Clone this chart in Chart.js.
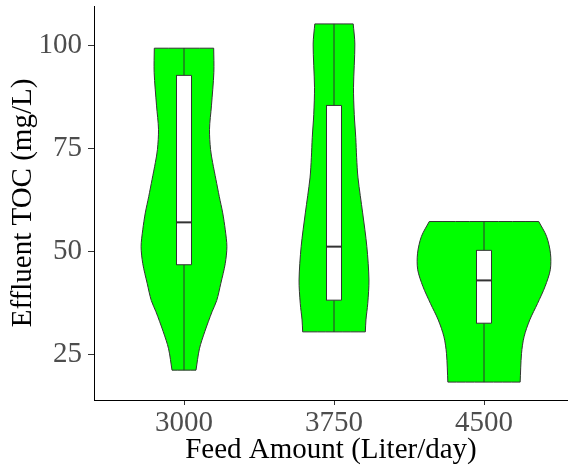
<!DOCTYPE html>
<html>
<head>
<meta charset="utf-8">
<title>Effluent TOC by Feed Amount</title>
<script src="https://cdn.jsdelivr.net/npm/chart.js@4/dist/chart.umd.min.js"></script>
<style>
  html, body { margin: 0; padding: 0; background: #ffffff; }
  #wrap { width: 568px; height: 472px; position: relative; }
</style>
</head>
<body>
<div id="wrap"><canvas id="chart"></canvas></div>
<script>
// Feed amount groups (Liter/day)
const categories = ['3000', '3750', '4500'];

// Box-plot summary of effluent TOC (mg/L) per group
const minValues    = [21.2, 30.5, 18.3];
const q1Values     = [46.8, 38.2, 32.6];
const medianValues = [57.1, 51.2, 43.0];
const q3Values     = [92.8, 85.5, 50.3];
const maxValues    = [99.4, 105.3, 57.3];

// Violin outlines: TOC levels and kernel half-widths (in group units)
const violinLevels3000 = [21.2, 26.4, 30.5, 35.4, 38.1, 42.2, 47.1, 51.2, 55.3, 59.4, 63.4, 67.5, 71.6, 74.8, 79.7, 85.4, 93.5, 99.4];
const violinWidths3000 = [0.080, 0.103, 0.138, 0.187, 0.218, 0.245, 0.275, 0.286, 0.275, 0.258, 0.235, 0.213, 0.191, 0.177, 0.170, 0.183, 0.199, 0.198];
const violinLevels3750 = [30.5, 33.4, 37.4, 43.1, 51.2, 59.4, 67.9, 72.8, 77.7, 83.3, 89.9, 100.4, 105.3];
const violinWidths3750 = [0.209, 0.213, 0.225, 0.233, 0.219, 0.191, 0.160, 0.151, 0.145, 0.135, 0.130, 0.139, 0.128];
const violinLevels4500 = [18.3, 25.2, 29.3, 33.4, 37.4, 41.5, 45.6, 49.6, 53.7, 57.3];
const violinWidths4500 = [0.241, 0.250, 0.267, 0.305, 0.357, 0.407, 0.442, 0.443, 0.417, 0.365];

const yTicks = [25, 50, 75, 100];

const violinLevels = [violinLevels3000, violinLevels3750, violinLevels4500];
const violinWidths = [violinWidths3000, violinWidths3750, violinWidths4500];

const FONT = "'Liberation Serif', 'Times New Roman', serif";
const OUTLINE = '#333333';
const BOX_HALF = 0.05;

// Closed outline: right side bottom->top, left side top->bottom.
// Corner points are doubled so the flat ends stay straight under spline tension.
function violinOutline(pos, levels, widths) {
  const pts = [];
  const n = levels.length;
  for (let j = 0; j < n; j++) pts.push({x: pos + widths[j], y: levels[j]});
  pts.push({x: pos + widths[n - 1], y: levels[n - 1]});
  for (let j = n - 1; j >= 0; j--) {
    pts.push({x: pos - widths[j], y: levels[j]});
    if (j === n - 1) pts.push({x: pos - widths[j], y: levels[j]});
  }
  pts.push({x: pos - widths[0], y: levels[0]});
  pts.push({x: pos + widths[0], y: levels[0]});
  return pts;
}

const datasets = [];
categories.forEach((cat, i) => {
  const pos = i + 1;
  datasets.push({
    label: 'violin ' + cat,
    data: violinOutline(pos, violinLevels[i], violinWidths[i]),
    showLine: true, fill: 'shape', tension: 0.3,
    backgroundColor: '#00ff00', borderColor: OUTLINE, borderWidth: 1,
    pointRadius: 0, order: 4
  });
  datasets.push({
    label: 'whisker ' + cat,
    data: [{x: pos, y: minValues[i]}, {x: pos, y: maxValues[i]}],
    showLine: true, fill: false, borderColor: OUTLINE, borderWidth: 1,
    pointRadius: 0, order: 3
  });
  datasets.push({
    label: 'box ' + cat,
    data: [
      {x: pos - BOX_HALF, y: q1Values[i]}, {x: pos + BOX_HALF, y: q1Values[i]},
      {x: pos + BOX_HALF, y: q3Values[i]}, {x: pos - BOX_HALF, y: q3Values[i]},
      {x: pos - BOX_HALF, y: q1Values[i]}
    ],
    showLine: true, fill: 'shape', tension: 0,
    backgroundColor: '#ffffff', borderColor: OUTLINE, borderWidth: 1,
    pointRadius: 0, order: 2
  });
  datasets.push({
    label: 'median ' + cat,
    data: [{x: pos - BOX_HALF, y: medianValues[i]}, {x: pos + BOX_HALF, y: medianValues[i]}],
    showLine: true, fill: false, borderColor: OUTLINE, borderWidth: 2,
    pointRadius: 0, order: 1
  });
});

function noPadding(scale) {
  scale.paddingTop = 0; scale.paddingBottom = 0;
  scale.paddingLeft = 0; scale.paddingRight = 0;
}

new Chart(document.getElementById('chart'), {
  type: 'scatter',
  data: { datasets },
  options: {
    responsive: true,
    maintainAspectRatio: false,
    animation: false,
    layout: { padding: { top: 6, right: 0, bottom: 0, left: 0 } },
    plugins: { legend: { display: false }, tooltip: { enabled: false } },
    scales: {
      x: {
        type: 'linear',
        min: 0.4, max: 3.56,
        afterBuildTicks: s => { s.ticks = categories.map((c, i) => ({value: i + 1})); },
        afterFit: s => { s.height = 72; noPadding(s); },
        ticks: {
          callback: v => categories[v - 1],
          color: '#4d4d4d', font: { family: FONT, size: 29 }, padding: 1,
          maxRotation: 0, autoSkip: false
        },
        grid: { display: true, drawOnChartArea: false, drawTicks: true, tickLength: 5, color: OUTLINE },
        border: { display: true, color: '#000000', width: 1 },
        title: {
          display: true, text: 'Feed Amount (Liter/day)', color: '#000000',
          font: { family: FONT, size: 29 }, padding: { top: 0, bottom: 4 }
        }
      },
      y: {
        type: 'linear',
        min: 13.95, max: 109.65,
        afterBuildTicks: s => { s.ticks = yTicks.map(v => ({value: v})); },
        afterFit: s => { s.width = 94; noPadding(s); },
        ticks: { color: '#4d4d4d', font: { family: FONT, size: 29 }, padding: 6 },
        grid: { display: true, drawOnChartArea: false, drawTicks: true, tickLength: 6, color: OUTLINE },
        border: { display: true, color: '#000000', width: 1 },
        title: {
          display: true, text: 'Effluent TOC (mg/L)', color: '#000000',
          font: { family: FONT, size: 29 }, padding: { top: 6, bottom: 0 }
        }
      }
    }
  }
});
</script>
</body>
</html>
